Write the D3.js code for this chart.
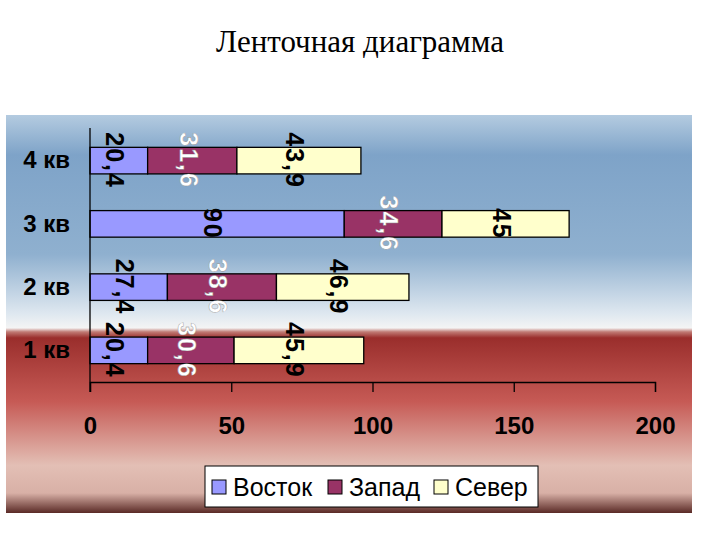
<!DOCTYPE html><html><head><meta charset="utf-8">
<script src="https://cdn.jsdelivr.net/npm/d3@7"></script>
<style>body{margin:0;background:#fff}</style></head><body>
<svg id="c" width="720" height="540"></svg>
<script>
const categories=["1 кв","2 кв","3 кв","4 кв"];
const seriesNames=["Восток","Запад","Север"];
const vostok=[20.4,27.4,90,20.4];
const zapad=[30.6,38.6,34.6,31.6];
const sever=[45.9,46.9,45,43.9];
const labels=[["20,4","30,6","45,9"],["27,4","38,6","46,9"],["90","34,6","45"],["20,4","31,6","43,9"]];
const ticks=[0,50,100,150,200];
const colors=["#9999ff","#993366","#ffffcc"];
const labelColors=["#000","#fff","#000"];

const svg=d3.select("#c");
const defs=svg.append("defs");
const g=defs.append("linearGradient").attr("id","bg").attr("x1",0).attr("y1",0).attr("x2",0).attr("y2",1);
[[0,"#b4cbe0"],[0.1,"#7ea3c8"],[0.35,"#8fb0cf"],[0.5,"#dfe8f0"],[0.535,"#f4f4f4"],[0.545,"#c07a74"],[0.56,"#9a2e2c"],[0.72,"#c65a55"],[0.88,"#e3bfb5"],[0.95,"#d8b0a6"],[1,"#5a2a26"]]
 .forEach(([o,c])=>g.append("stop").attr("offset",o).attr("stop-color",c));
svg.append("rect").attr("x",6).attr("y",115).attr("width",686).attr("height",398).attr("fill","url(#bg)");

svg.append("text").attr("x",360).attr("y",52).attr("text-anchor","middle")
 .attr("font-family","Liberation Serif").attr("font-size",31).text("Ленточная диаграмма");

const x=d3.scaleLinear().domain([0,200]).range([90,655]);
const y=d3.scaleBand().domain(categories.slice().reverse()).range([129,382]).paddingInner(0.58).paddingOuter(0.29);
const data=categories.map((c,i)=>({c,v:[vostok[i],zapad[i],sever[i]]}));

data.forEach((d,i)=>{
  let acc=0;
  d.v.forEach((v,j)=>{
    svg.append("rect").attr("x",x(acc)).attr("y",y(d.c)).attr("width",x(acc+v)-x(acc)).attr("height",y.bandwidth())
      .attr("fill",colors[j]).attr("stroke","#000").attr("stroke-width",1.3);
    const cx=x(acc+v/2)-4, cy=y(d.c)+y.bandwidth()/2;
    const t=svg.append("text").attr("transform",`translate(${cx},${cy}) rotate(90)`)
      .attr("text-anchor","middle").attr("dy","0.35em").attr("font-family","Liberation Sans").attr("font-weight","bold")
      .attr("font-size",25).attr("letter-spacing",2).attr("fill",labelColors[j]).text(labels[i][j]);
    if(j===1) t.attr("stroke","#888").attr("stroke-width",0.4);
    acc+=v;
  });
});

const ax=svg.append("g").attr("transform","translate(0,382)").call(d3.axisBottom(x).tickValues(ticks).tickSize(10).tickFormat(d3.format("d")));
ax.select(".domain").attr("stroke","#000").attr("stroke-width",1.3);
ax.selectAll("line").attr("stroke","#000").attr("stroke-width",1.3);
ax.selectAll("text").attr("font-family","Liberation Sans").attr("font-weight","bold").attr("font-size",24).attr("dy",0).attr("y",52).attr("fill","#000");
const ay=svg.append("g").attr("transform","translate(90,0)").call(d3.axisLeft(y).tickSize(0).tickPadding(20));
ay.select(".domain").remove();
svg.append("line").attr("x1",90).attr("x2",90).attr("y1",128).attr("y2",392).attr("stroke","#000").attr("stroke-width",1.3);
ay.selectAll("text").attr("font-family","Liberation Sans").attr("font-weight","bold").attr("font-size",24).attr("fill","#000");

const lg=svg.append("g");
lg.append("rect").attr("x",205).attr("y",466).attr("width",333).attr("height",41).attr("fill","#fff").attr("stroke","#000");
const lx=[212,328,434];
seriesNames.forEach((n,i)=>{
  lg.append("rect").attr("x",lx[i]).attr("y",480).attr("width",14).attr("height",14).attr("fill",colors[i]).attr("stroke","#000");
  lg.append("text").attr("x",lx[i]+21).attr("y",496).attr("font-family","Liberation Sans").attr("font-size",25).text(n);
});
</script></body></html>
